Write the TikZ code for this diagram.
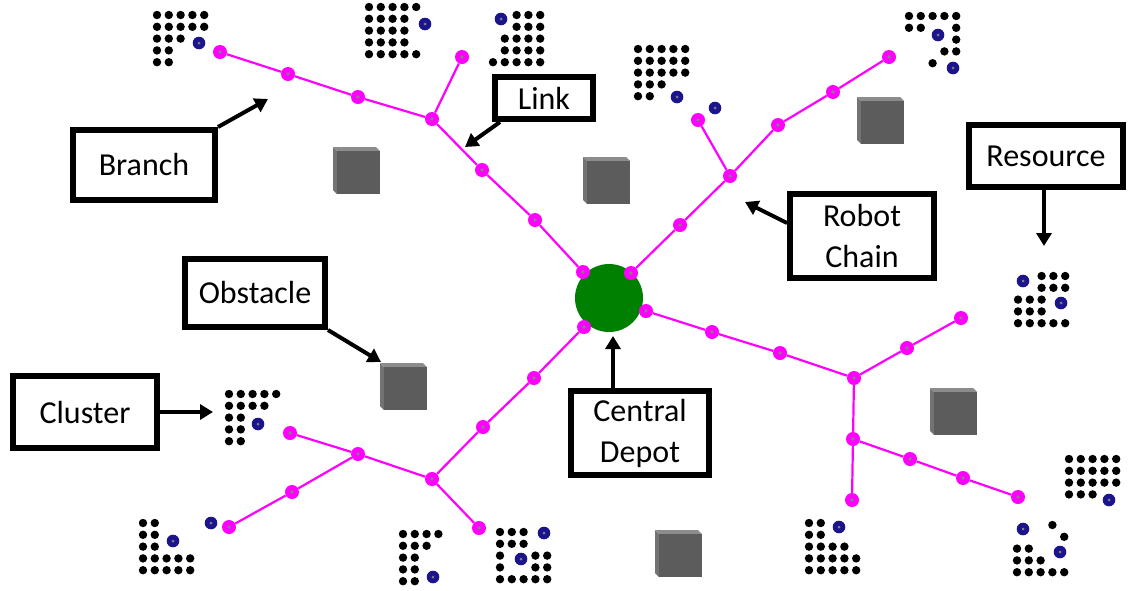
\documentclass[tikz,border=0pt]{standalone}
\usepackage{fontspec}
\setmainfont{Carlito}
\usetikzlibrary{positioning,arrows.meta}
\usepackage{xcolor}

\definecolor{chain}{RGB}{255,0,255}
\definecolor{depotgreen}{RGB}{0,128,0}
\definecolor{ore}{RGB}{28,20,140}

% black dot cluster: origin x, origin y, rows as row/{cols}
\newcommand\cluster[3]{%
  \begin{scope}[shift={(#1,#2)}]
    \foreach \r/\cs in {#3}{\foreach \c in \cs {\fill (11.8*\c,11.8*\r) circle (4.2pt);}}
  \end{scope}}
% single resource unit
\newcommand\ore[2]{\fill[ore] (#1,#2) circle (6.3pt); \fill[gray] (#1,#2) circle (1.5pt);}

\begin{document}
\begin{tikzpicture}[x=1pt, y=-1pt,
  font=\fontsize{32}{41}\selectfont,
  lbl/.style={draw, line width=6pt, align=center, inner sep=0pt},
  arr/.style={-{Triangle[length=13pt, width=15pt]}, line width=4pt},
  joint/.style={circle, fill=chain, minimum size=14pt, inner sep=0pt,
    path picture={\fill[gray] (path picture bounding box.center) circle (1.8pt);}},
  link/.style={draw=chain, line width=2.2pt},
  block/.pic={
    \fill[black!55] (0,0) -- (4,4) -- (4,47) -- (0,43) -- cycle;
    \fill[black!45] (0,0) -- (43,0) -- (47,4) -- (4,4) -- cycle;
    \fill[black!64] (4,4) rectangle (47,47);
  }
]
\fill[white] (0,0) rectangle (1138,590);
\useasboundingbox (0,0) rectangle (1138,590);

% obstacles
\foreach \p in {{333,147},{583,157},{857,97},{380,363},{930,388},{655,530}}
  \pic at (\p) {block};

% resource clusters
\cluster{157}{15}{0/{0,...,4},1/{0,...,4},2/{0,1,2},3/{0,1},4/{0,1}}
\cluster{369}{7}{0/{0,...,4},1/{0,...,3},2/{0,...,3},3/{0,...,3},4/{0,...,4}}
\cluster{493}{15}{0/{2,3,4},1/{2,3,4},2/{1,...,4},3/{1,...,4},4/{0,...,4}}
\cluster{638}{49}{0/{0,...,4},1/{0,...,4},2/{0,...,4},3/{0,1,2},4/{0,1}}
\cluster{909}{16}{0/{0,...,4},1/{0,1,4},2/{4},3/{3,4},4/{2}}
\cluster{1018}{276}{0/{2,3,4},1/{2,3,4},2/{0,1,2},3/{0,1,2},4/{0,...,4}}
\cluster{229}{394}{0/{0,...,4},1/{0,...,3},2/{0,1},3/{0,1},4/{0,1}}
\cluster{143}{523}{0/{0,1},1/{0,1},2/{0,1},3/{0,...,4},4/{0,...,4}}
\cluster{403}{534}{0/{0,...,3},1/{0,1,2},2/{0,1},3/{0,1},4/{0,1}}
\cluster{500}{532}{0/{0,1,2},1/{0,1,2},2/{0,3,4},3/{0,3,4},4/{0,...,4}}
\cluster{809}{523}{0/{0,1},1/{0,1},2/{0,...,3},3/{0,...,4},4/{0,...,4}}
\cluster{1017}{525}{0/{3},1/{4},2/{0,1},3/{0,1,2},4/{0,...,4}}
\cluster{1069}{459}{0/{0,...,4},1/{0,...,4},2/{0,...,4},3/{0,1,2}}
\foreach \x/\y in {199/43,425/24,501/19,677/97,715/108,938/35,953/68,1023/281,1061/303,
  258/424,173/541,211/523,433/577,544/533,521/559,839/527,1023/529,1060/552,1109/500}
  {\ore{\x}{\y}}

% depot and robot chains
\node[circle, fill=depotgreen, minimum size=68pt, inner sep=0pt] (depot) at (609,298) {};
\foreach \n/\x/\y in {n1/583/272,n2/535/220,n3/482/170,n4/432/119,n5/462/57,n6/358/97,n7/288/74,n8/220/52,
  e1/631/273,e2/680/225,e3/730/176,e4/698/120,e5/778/125,e6/833/92,e7/889/57,
  s1/646/311,s2/712/332,s3/780/353,s4/854/378,s5/907/348,s6/961/318,s7/853/439,s8/852/500,s9/910/459,s10/963/478,s11/1018/497,
  w1/584/327,w2/534/378,w3/483/427,w4/432/479,w5/479/528,w6/358/454,w7/290/433,w8/292/492,w9/229/527}
  \node[joint] (\n) at (\x,\y) {};
\foreach \a/\b in {n1/n2,n2/n3,n3/n4,n4/n5,n4/n6,n6/n7,n7/n8,
  e1/e2,e2/e3,e3/e4,e3/e5,e5/e6,e6/e7,
  s1/s2,s2/s3,s3/s4,s4/s5,s5/s6,s4/s7,s7/s8,s7/s9,s9/s10,s10/s11,
  w1/w2,w2/w3,w3/w4,w4/w5,w4/w6,w6/w7,w6/w8,w8/w9}
  \draw[link] (\a) -- (\b);

% labels
\node[lbl, minimum width=142pt, minimum height=70pt] (branch) at (144,165) {Branch};
\node[lbl, minimum width=98pt, minimum height=42pt] (link) at (544,98) {Link};
\node[lbl, minimum width=154pt, minimum height=62pt] (resource) at (1046,156) {Resource};
\node[lbl, minimum width=144pt, minimum height=84pt] (robot) at (862,236) {Robot\\Chain};
\node[lbl, minimum width=140pt, minimum height=68pt] (obstacle) at (255,293) {Obstacle};
\node[lbl, minimum width=144pt, minimum height=72pt] (cluster) at (85,412) {Cluster};
\node[lbl, minimum width=138pt, minimum height=84pt] (depotlbl) at (640,433) {Central\\Depot};

\coordinate (branchtip) at (268,99);
\coordinate (linktip) at (465,147);
\coordinate (resourcetip) at (1044,246);
\coordinate (robottip) at (745,202);
\coordinate (obstacletip) at (381,362);
\coordinate (clustertip) at (213,412);
\coordinate (depottip) at (613,336);
\draw[arr] (branch.north east) -- (branchtip);
\draw[arr] ([xshift=8pt]link.south west) -- (linktip);
\draw[arr] (resource.south -| resourcetip) -- (resourcetip);
\draw[arr] ([yshift=13pt]robot.west) -- (robottip);
\draw[arr] (obstacle.south east) -- (obstacletip);
\draw[arr] (cluster.east) -- (clustertip);
\draw[arr] (depotlbl.north -| depottip) -- (depottip);
\end{tikzpicture}
\end{document}
